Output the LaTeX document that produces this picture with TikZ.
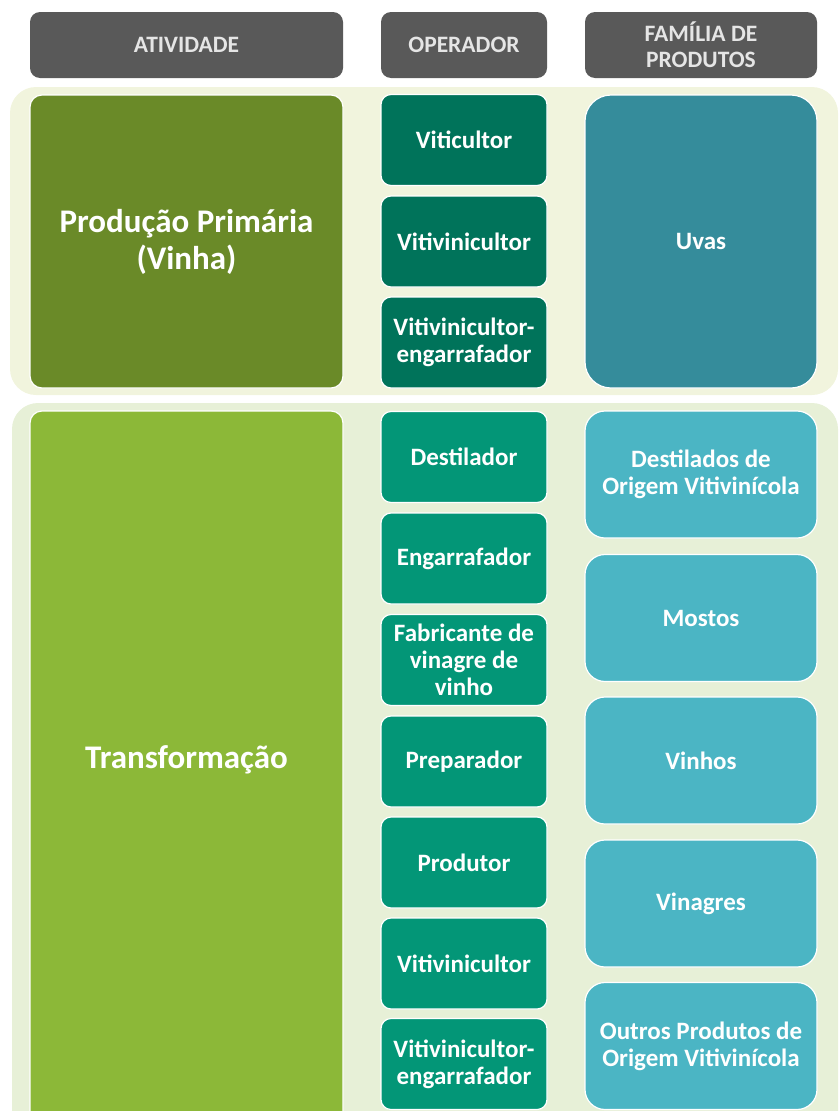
\documentclass[tikz,border=0pt]{standalone}
\usepackage{fontspec}
\setmainfont{Carlito}
\definecolor{headgray}{HTML}{595959}
\definecolor{bandone}{HTML}{F1F4DD}
\definecolor{bandtwo}{HTML}{E7F0D7}
\definecolor{primgreen}{HTML}{6A8A28}
\definecolor{transgreen}{HTML}{8CB838}
\definecolor{opdark}{HTML}{00735A}
\definecolor{oplight}{HTML}{039677}
\definecolor{uvasblue}{HTML}{358C9B}
\definecolor{prodblue}{HTML}{4BB5C4}
\begin{document}
\begin{tikzpicture}[x=1pt,y=-1pt,
  header/.style={fill=headgray,rounded corners=10pt,minimum width=#1,minimum height=66pt,
    text=white!90!black,align=center,font=\bfseries\fontsize{23.5}{26}\selectfont},
  band/.style={fill=#1,rounded corners=26pt},
  bigbox/.style={fill=#1,draw=white,line width=1.2pt,rounded corners=12pt,
    minimum width=313pt,text=white,align=center,font=\bfseries\fontsize{33}{37}\selectfont},
  opbox/.style={fill=#1,draw=white,line width=1.2pt,rounded corners=10pt,
    minimum width=166pt,minimum height=91pt,text=white,align=center,
    font=\bfseries\fontsize{25}{27}\selectfont},
  prodbox/.style={fill=#1,draw=white,line width=1.2pt,rounded corners=20pt,
    minimum width=232pt,text=white,align=center,
    font=\bfseries\fontsize{25}{27}\selectfont}]
\useasboundingbox (0,0) rectangle (840,1111);
\clip (0,0) rectangle (840,1111);

\node[header=313pt] (hativ) at (186.5,45) {ATIVIDADE};
\node[header=166pt] (hoper) at (464,45) {OPERADOR};
\node[header=232pt] (hfam) at (701,45) {FAMÍLIA DE\\PRODUTOS};

\fill[band=bandone] (10,87) rectangle (838,395);
\fill[band=bandtwo] (12,403) rectangle (838,1160);

\node[bigbox=primgreen,minimum height=293pt] (prim) at (186.5,241.5) {Produção Primária\\(Vinha)};
\node[bigbox=transgreen,minimum height=740pt] (trans) at (186.5,781) {};
\node[text=white,font=\bfseries\fontsize{33}{37}\selectfont] (translabel) at (186.5,760) {Transformação};

\node[opbox=opdark] (viti) at (464,140) {Viticultor};
\node[opbox=opdark] (vitivin) at (464,241.5) {Vitivinicultor};
\node[opbox=opdark] (vitieng) at (464,342.5) {Vitivinicultor-\\engarrafador};

\node[opbox=oplight] (dest) at (464,457) {Destilador};
\node[opbox=oplight] (engar) at (464,558.5) {Engarrafador};
\node[opbox=oplight] (fabr) at (464,660) {Fabricante de\\vinagre de\\vinho};
\node[opbox=oplight] (prep) at (464,761.5) {Preparador};
\node[opbox=oplight] (produt) at (464,862.5) {Produtor};
\node[opbox=oplight] (vitivintwo) at (464,963.5) {Vitivinicultor};
\node[opbox=oplight] (vitiengtwo) at (464,1064) {Vitivinicultor-\\engarrafador};

\node[prodbox=uvasblue,minimum height=293pt,rounded corners=26pt] (uvas) at (701,241.5) {Uvas};

\node[prodbox=prodblue,minimum height=127pt] (destorig) at (701,474.5) {Destilados de\\Origem Vitivinícola};
\node[prodbox=prodblue,minimum height=127pt] (mostos) at (701,618) {Mostos};
\node[prodbox=prodblue,minimum height=127pt] (vinhos) at (701,760.5) {Vinhos};
\node[prodbox=prodblue,minimum height=127pt] (vinagres) at (701,903.5) {Vinagres};
\node[prodbox=prodblue,minimum height=127pt] (outros) at (701,1046) {Outros Produtos de\\Origem Vitivinícola};
\end{tikzpicture}
\end{document}
